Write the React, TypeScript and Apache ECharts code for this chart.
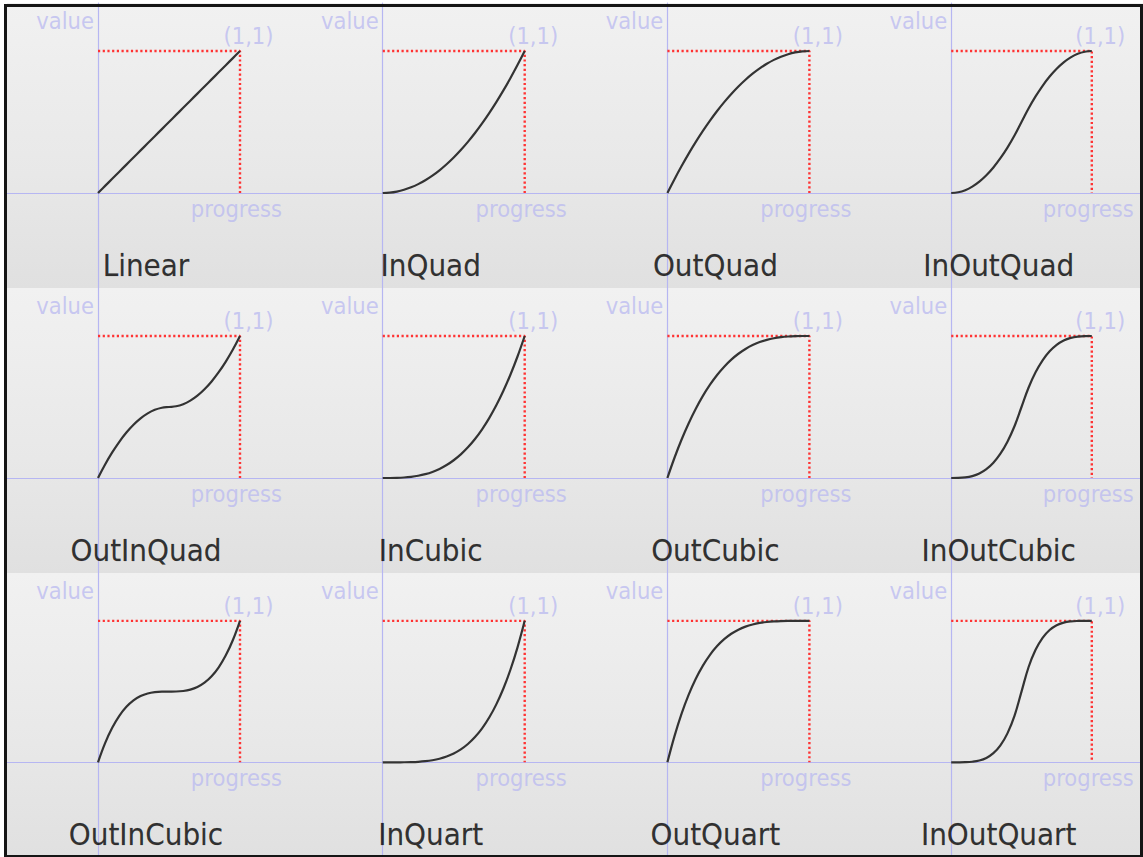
import React, { useEffect, useRef } from "react";
import * as echarts from "echarts";

// ---- data ----
const EASING_NAMES = [
  "Linear", "InQuad", "OutQuad", "InOutQuad",
  "OutInQuad", "InCubic", "OutCubic", "InOutCubic",
  "OutInCubic", "InQuart", "OutQuart", "InOutQuart",
];
const PROGRESS = [0, 0.05, 0.1, 0.15, 0.2, 0.25, 0.3, 0.35, 0.4, 0.45, 0.5, 0.55, 0.6, 0.65, 0.7, 0.75, 0.8, 0.85, 0.9, 0.95, 1];
const LINEAR = [0, 0.05, 0.1, 0.15, 0.2, 0.25, 0.3, 0.35, 0.4, 0.45, 0.5, 0.55, 0.6, 0.65, 0.7, 0.75, 0.8, 0.85, 0.9, 0.95, 1];
const IN_QUAD = [0, 0.0025, 0.01, 0.0225, 0.04, 0.0625, 0.09, 0.1225, 0.16, 0.2025, 0.25, 0.3025, 0.36, 0.4225, 0.49, 0.5625, 0.64, 0.7225, 0.81, 0.9025, 1];
const OUT_QUAD = [0, 0.0975, 0.19, 0.2775, 0.36, 0.4375, 0.51, 0.5775, 0.64, 0.6975, 0.75, 0.7975, 0.84, 0.8775, 0.91, 0.9375, 0.96, 0.9775, 0.99, 0.9975, 1];
const IN_OUT_QUAD = [0, 0.005, 0.02, 0.045, 0.08, 0.125, 0.18, 0.245, 0.32, 0.405, 0.5, 0.595, 0.68, 0.755, 0.82, 0.875, 0.92, 0.955, 0.98, 0.995, 1];
const OUT_IN_QUAD = [0, 0.095, 0.18, 0.255, 0.32, 0.375, 0.42, 0.455, 0.48, 0.495, 0.5, 0.505, 0.52, 0.545, 0.58, 0.625, 0.68, 0.745, 0.82, 0.905, 1];
const IN_CUBIC = [0, 0.0001, 0.001, 0.0034, 0.008, 0.0156, 0.027, 0.0429, 0.064, 0.0911, 0.125, 0.1664, 0.216, 0.2746, 0.343, 0.4219, 0.512, 0.6141, 0.729, 0.8574, 1];
const OUT_CUBIC = [0, 0.1426, 0.271, 0.3859, 0.488, 0.5781, 0.657, 0.7254, 0.784, 0.8336, 0.875, 0.9089, 0.936, 0.9571, 0.973, 0.9844, 0.992, 0.9966, 0.999, 0.9999, 1];
const IN_OUT_CUBIC = [0, 0.0005, 0.004, 0.0135, 0.032, 0.0625, 0.108, 0.1715, 0.256, 0.3645, 0.5, 0.6355, 0.744, 0.8285, 0.892, 0.9375, 0.968, 0.9865, 0.996, 0.9995, 1];
const OUT_IN_CUBIC = [0, 0.1355, 0.244, 0.3285, 0.392, 0.4375, 0.468, 0.4865, 0.496, 0.4995, 0.5, 0.5005, 0.504, 0.5135, 0.532, 0.5625, 0.608, 0.6715, 0.756, 0.8645, 1];
const IN_QUART = [0, 0.0000, 0.0001, 0.0005, 0.0016, 0.0039, 0.0081, 0.015, 0.0256, 0.041, 0.0625, 0.0915, 0.1296, 0.1785, 0.2401, 0.3164, 0.4096, 0.522, 0.6561, 0.8145, 1];
const OUT_QUART = [0, 0.1855, 0.3439, 0.478, 0.5904, 0.6836, 0.7599, 0.8215, 0.8704, 0.9085, 0.9375, 0.959, 0.9744, 0.985, 0.9919, 0.9961, 0.9984, 0.9995, 0.9999, 1, 1];
const IN_OUT_QUART = [0, 0.0001, 0.0008, 0.0041, 0.0128, 0.0313, 0.0648, 0.1201, 0.2048, 0.3281, 0.5, 0.672, 0.7952, 0.88, 0.9352, 0.9688, 0.9872, 0.996, 0.9992, 0.9999, 1];
const CURVES = [
  LINEAR, IN_QUAD, OUT_QUAD, IN_OUT_QUAD,
  OUT_IN_QUAD, IN_CUBIC, OUT_CUBIC, IN_OUT_CUBIC,
  OUT_IN_CUBIC, IN_QUART, OUT_QUART, IN_OUT_QUART,
];
const GUIDE = [[0, 1], [1, 1], [1, 0]];
const VALUE_LABEL = "value";
const PROGRESS_LABEL = "progress";
const CORNER_LABEL = "(1,1)";

// ---- layout ----
const W = 1143;
const H = 857;
const COLS = 4;
const COL_PITCH = 284.7;
const ROW_PITCH = 285;
const LEFT0 = 7;
const TOP0 = 3;
const UNIT = 142; // px per unit
const ORIGIN_DX = 91; // from panel left to x=0
const ORIGIN_DY = 190; // from panel top to y=0

const FONT = "'DejaVu Sans Condensed', 'DejaVu Sans', sans-serif";
const AXIS_COLOR = "#b6b6f2";
const LABEL_COLOR = "#bcbcf0";

export default function App() {
  const ref = useRef<HTMLDivElement>(null);
  useEffect(() => {
    document.body.style.margin = "0";
    const chart = echarts.init(ref.current!, null, { renderer: "svg" });
    const grids: any[] = [];
    const xAxes: any[] = [];
    const yAxes: any[] = [];
    const series: any[] = [];
    const graphics: any[] = [];
    const rows = Math.ceil(EASING_NAMES.length / COLS);
    for (let r = 0; r < rows; r++) {
      graphics.push({
        type: "rect",
        z: -100,
        silent: true,
        shape: { x: LEFT0, y: TOP0 + r * ROW_PITCH, width: W - LEFT0, height: ROW_PITCH },
        style: {
          fill: {
            type: "linear", x: 0, y: 0, x2: 0, y2: 1,
            colorStops: [
              { offset: 0, color: "#f1f1f1" },
              { offset: 0.6, color: "#e8e8e8" },
              { offset: 1, color: "#e0e0e0" },
            ],
          },
        },
      });
    }
    EASING_NAMES.forEach((name, i) => {
      const c = i % COLS;
      const r = Math.floor(i / COLS);
      grids.push({
        left: LEFT0 + c * COL_PITCH,
        top: TOP0 + r * ROW_PITCH,
        width: COL_PITCH,
        height: ROW_PITCH,
        containLabel: false,
      });
      const axisCommon = {
        type: "value",
        axisLine: { show: true, onZero: true, lineStyle: { color: AXIS_COLOR, width: 1.2 } },
        axisTick: { show: false },
        axisLabel: { show: false },
        splitLine: { show: false },
      };
      xAxes.push({ ...axisCommon, gridIndex: i, min: -ORIGIN_DX / UNIT, max: (COL_PITCH - ORIGIN_DX) / UNIT });
      yAxes.push({ ...axisCommon, gridIndex: i, min: -(ROW_PITCH - ORIGIN_DY) / UNIT, max: ORIGIN_DY / UNIT });
      series.push({
        type: "line",
        xAxisIndex: i,
        yAxisIndex: i,
        data: GUIDE,
        showSymbol: false,
        silent: true,
        z: 3,
        lineStyle: { color: "#ff3333", width: 2.4, type: [2.2, 2.5] },
      });
      series.push({
        type: "line",
        xAxisIndex: i,
        yAxisIndex: i,
        data: PROGRESS.map((x, k) => [x, CURVES[i][k]]),
        showSymbol: false,
        smooth: 0.4,
        silent: true,
        z: 4,
        lineStyle: { color: "#333333", width: 2.2 },
      });
      const small = { fontFamily: FONT, fontSize: 23.5, color: LABEL_COLOR };
      series.push({
        type: "scatter",
        xAxisIndex: i,
        yAxisIndex: i,
        symbolSize: 1,
        silent: true,
        z: 5,
        itemStyle: { color: "transparent" },
        data: [
          { value: [-4 / UNIT, 172 / UNIT], label: { show: true, position: "inside", formatter: VALUE_LABEL, align: "right", verticalAlign: "middle", ...small } },
          { value: [1.06, 157 / UNIT], label: { show: true, position: "inside", formatter: CORNER_LABEL, align: "center", verticalAlign: "middle", ...small } },
          { value: [0.975, -16 / UNIT], label: { show: true, position: "inside", formatter: PROGRESS_LABEL, align: "center", verticalAlign: "middle", ...small } },
          { value: [0.338, -72 / UNIT], label: { show: true, position: "inside", formatter: name, align: "center", verticalAlign: "middle", fontFamily: FONT, fontSize: 31, color: "#000000", textBorderColor: "rgba(0,0,0,0.35)", textBorderWidth: 0.4 } },
        ],
      });
    });
    graphics.push({
      type: "rect",
      z: 100,
      silent: true,
      shape: { x: 5.5, y: 5.5, width: 1136, height: 851 },
      style: { fill: "none", stroke: "#151515", lineWidth: 3 },
    });
    chart.setOption({
      animation: false,
      backgroundColor: "#ffffff",
      grid: grids,
      xAxis: xAxes,
      yAxis: yAxes,
      series,
      graphic: { elements: graphics },
    });
    return () => chart.dispose();
  }, []);
  return <div ref={ref} style={{ width: W, height: H }} />;
}
